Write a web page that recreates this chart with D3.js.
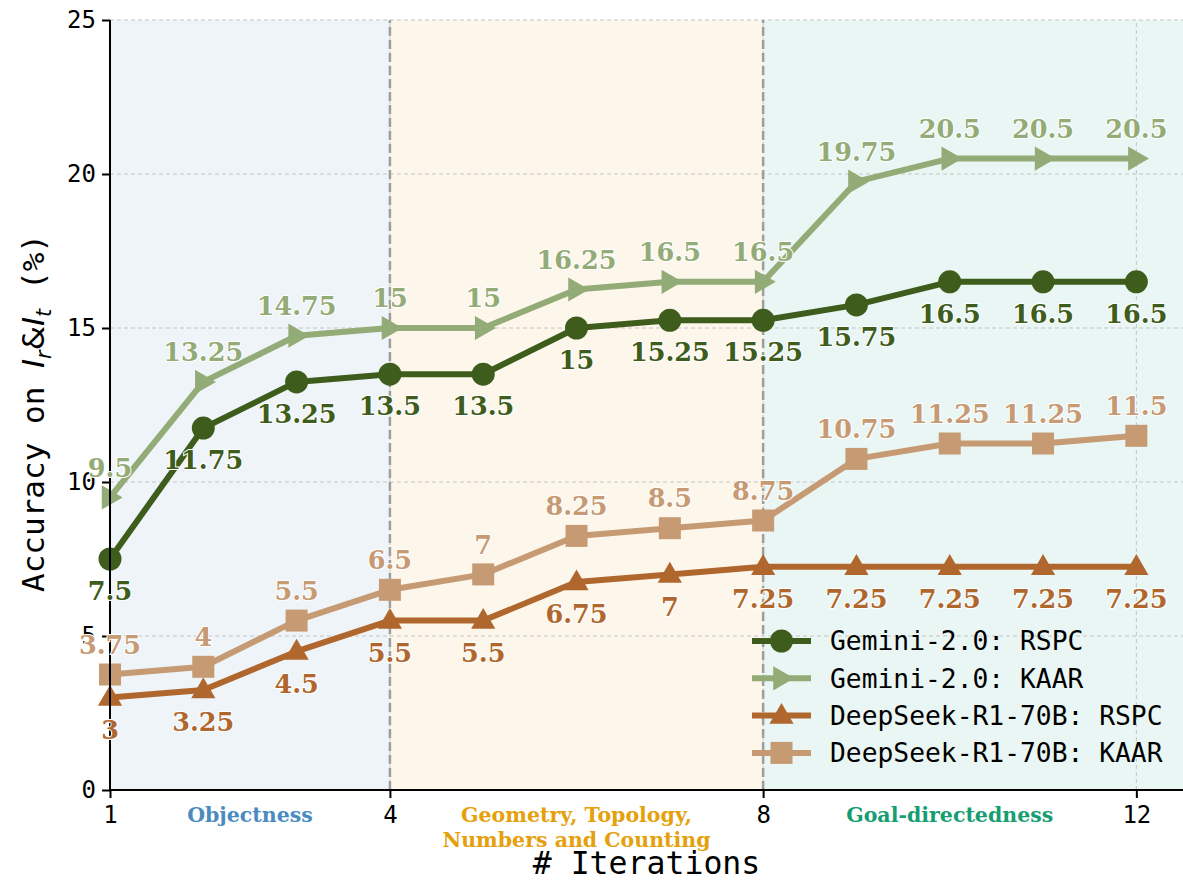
<!DOCTYPE html>
<html>
<head>
<meta charset="utf-8">
<script src="https://cdn.jsdelivr.net/npm/d3@7"></script>
<style>
  html, body { margin: 0; padding: 0; background: #fff; }
  svg { display: block; }
</style>
</head>
<body>
<div id="chart"></div>
<script>
// Iterations on the x axis
const iterations = [1, 2, 3, 4, 5, 6, 7, 8, 9, 10, 11, 12];
const xTicks = [1, 4, 8, 12];
const yTicks = [0, 5, 10, 15, 20, 25];

// Accuracy per iteration for each configuration
const geminiRSPC = [7.5, 11.75, 13.25, 13.5, 13.5, 15, 15.25, 15.25, 15.75, 16.5, 16.5, 16.5];
const geminiKAAR = [9.5, 13.25, 14.75, 15, 15, 16.25, 16.5, 16.5, 19.75, 20.5, 20.5, 20.5];
const deepseekRSPC = [3, 3.25, 4.5, 5.5, 5.5, 6.75, 7, 7.25, 7.25, 7.25, 7.25, 7.25];
const deepseekKAAR = [3.75, 4, 5.5, 6.5, 7, 8.25, 8.5, 8.75, 10.75, 11.25, 11.25, 11.5];

const seriesNames = ["Gemini-2.0: RSPC", "Gemini-2.0: KAAR", "DeepSeek-R1-70B: RSPC", "DeepSeek-R1-70B: KAAR"];

// Knowledge phases shaded behind the curves
const phaseNames = ["Objectness", "Geometry, Topology,\nNumbers and Counting", "Goal-directedness"];
const phaseBounds = [[1, 4], [4, 8], [8, 12.5]];

const series = [
  { name: seriesNames[0], values: geminiRSPC, color: "#3e5c1b", marker: "circle", labelPos: "below" },
  { name: seriesNames[1], values: geminiKAAR, color: "#93ab76", marker: "right", labelPos: "above" },
  { name: seriesNames[2], values: deepseekRSPC, color: "#b0672d", marker: "up", labelPos: "below" },
  { name: seriesNames[3], values: deepseekKAAR, color: "#c69a73", marker: "square", labelPos: "above" }
];
const phaseFill = ["#eff4f8", "#fdf6eb", "#e9f6f4"];
const phaseText = ["#4b8bbf", "#e4a10c", "#169e72"];

const W = 1183, H = 884;
const margin = { left: 110, right: 0, top: 20, bottom: 94 };

const svg = d3.select("#chart").append("svg").attr("width", W).attr("height", H);

const x = d3.scaleLinear().domain([1, 12.5]).range([margin.left, W - margin.right]);
const y = d3.scaleLinear().domain([0, 25]).range([H - margin.bottom, margin.top]);

const plot = svg.append("g");

// phase backgrounds
plot.selectAll("rect.phase").data(phaseBounds).join("rect")
  .attr("x", d => x(d[0])).attr("width", d => x(d[1]) - x(d[0]))
  .attr("y", y(25)).attr("height", y(0) - y(25))
  .attr("fill", (d, i) => phaseFill[i]);

// grid
plot.selectAll("line.gy").data(yTicks).join("line")
  .attr("x1", x(1)).attr("x2", x(12.5))
  .attr("y1", d => y(d)).attr("y2", d => y(d))
  .attr("stroke", "#c4c4c4").attr("stroke-width", 1).attr("stroke-dasharray", "4,3");
plot.selectAll("line.gx").data(xTicks).join("line")
  .attr("x1", d => x(d)).attr("x2", d => x(d))
  .attr("y1", y(0)).attr("y2", y(25))
  .attr("stroke", "#c4c4c4").attr("stroke-width", 1).attr("stroke-dasharray", "4,3");

// phase separators
plot.selectAll("line.sep").data([4, 8]).join("line")
  .attr("x1", d => x(d)).attr("x2", d => x(d))
  .attr("y1", y(0)).attr("y2", y(25))
  .attr("stroke", "#9e9e9e").attr("stroke-width", 2.5).attr("stroke-dasharray", "9,4");

// marker shapes
function markerPath(type, s) {
  if (type === "circle") return d3.symbol(d3.symbolCircle, Math.PI * s * s)();
  if (type === "square") return `M${-s},${-s}H${s}V${s}H${-s}Z`;
  if (type === "up") return `M0,${-s * 1.15}L${s * 1.1},${s * 0.75}L${-s * 1.1},${s * 0.75}Z`;
  if (type === "right") return `M${s * 1.15},0L${-s * 0.75},${-s * 1.1}L${-s * 0.75},${s * 1.1}Z`;
}
const markerSize = { circle: 11.5, square: 11, up: 11, right: 11 };

const line = d3.line().x((d, i) => x(iterations[i])).y(d => y(d));

series.forEach(s => {
  plot.append("path").datum(s.values)
    .attr("d", line).attr("fill", "none")
    .attr("stroke", s.color).attr("stroke-width", 6).attr("stroke-linejoin", "round");
  plot.selectAll(null).data(s.values).join("path")
    .attr("transform", (d, i) => `translate(${x(iterations[i])},${y(d)})`)
    .attr("d", markerPath(s.marker, markerSize[s.marker]))
    .attr("fill", s.color);
});

// axes
const xAxis = d3.axisBottom(x).tickValues(xTicks).tickSize(8).tickPadding(8).tickFormat(d3.format("d"));
const yAxis = d3.axisLeft(y).tickValues(yTicks).tickSize(8).tickPadding(6).tickFormat(d3.format("d"));

const gx = svg.append("g").attr("transform", `translate(0,${y(0)})`).call(xAxis);
const gy = svg.append("g").attr("transform", `translate(${x(1)},0)`).call(yAxis);
[gx, gy].forEach(g => {
  g.select(".domain").attr("stroke", "#000").attr("stroke-width", 2);
  g.selectAll(".tick line").attr("stroke", "#000").attr("stroke-width", 2);
  g.selectAll(".tick text").attr("fill", "#000")
    .style("font-family", "'DejaVu Sans Mono', monospace").style("font-size", "24px");
});
gx.select(".domain").attr("d", `M${x(1)},0H${x(12.5)}`);
gy.select(".domain").attr("d", `M0,${y(0)}V${y(25)}`);

// phase captions under the axis
phaseNames.forEach((name, i) => {
  const cx = (x(phaseBounds[i][0]) + x(Math.min(phaseBounds[i][1], 12))) / 2;
  const lines = name.split("\n");
  const t = svg.append("text")
    .attr("text-anchor", "middle")
    .attr("fill", phaseText[i])
    .style("font-family", "'DejaVu Serif', serif").style("font-weight", "bold").style("font-size", "20.5px");
  lines.forEach((ln, j) => {
    t.append("tspan").attr("x", cx).attr("y", 822 + j * 25).text(ln);
  });
});

// axis titles
svg.append("text")
  .attr("x", (x(1) + x(12.5)) / 2).attr("y", 874)
  .attr("text-anchor", "middle")
  .style("font-family", "'DejaVu Sans Mono', monospace").style("font-size", "31.5px")
  .text("# Iterations");

const yl = svg.append("text")
  .attr("transform", `translate(44,${(y(0) + y(25)) / 2 + 8}) rotate(-90)`)
  .attr("text-anchor", "middle")
  .style("font-family", "'DejaVu Sans Mono', monospace").style("font-size", "31px");
yl.append("tspan").text("Accuracy on ");
yl.append("tspan").style("font-family", "'DejaVu Sans', sans-serif").style("font-style", "italic").text("I");
yl.append("tspan").style("font-family", "'DejaVu Sans', sans-serif").style("font-style", "italic")
  .style("font-size", "21px").attr("dy", 7).text("r");
yl.append("tspan").style("font-family", "'DejaVu Sans', sans-serif").attr("dy", -7).text("&");
yl.append("tspan").style("font-family", "'DejaVu Sans', sans-serif").style("font-style", "italic").text("I");
yl.append("tspan").style("font-family", "'DejaVu Sans', sans-serif").style("font-style", "italic")
  .style("font-size", "21px").attr("dy", 7).text("t");
yl.append("tspan").attr("dy", -7).text(" (%)");

// legend
const legend = svg.append("g");
series.forEach((s, i) => {
  const ly = 641 + i * 37.3;
  legend.append("line").attr("x1", 752).attr("x2", 811).attr("y1", ly).attr("y2", ly)
    .attr("stroke", s.color).attr("stroke-width", 6);
  legend.append("path").attr("transform", `translate(781.5,${ly})`)
    .attr("d", markerPath(s.marker, markerSize[s.marker])).attr("fill", s.color);
  legend.append("text").attr("x", 830).attr("y", ly).attr("dy", "0.35em")
    .style("font-family", "'DejaVu Sans Mono', monospace").style("font-size", "26.3px")
    .attr("fill", "#000").text(s.name);
});

// value labels on every point
const fmt = v => String(v);
series.forEach(s => {
  svg.selectAll(null).data(s.values).join("text")
    .attr("x", (d, i) => x(iterations[i]))
    .attr("y", d => y(d) + (s.labelPos === "below" ? 32 : -30))
    .attr("dy", "0.36em")
    .attr("text-anchor", "middle")
    .attr("fill", s.color)
    .attr("stroke", "#fff").attr("stroke-width", 2).attr("paint-order", "stroke")
    .style("font-family", "'DejaVu Serif', serif").style("font-weight", "bold").style("font-size", "25.5px")
    .text(d => fmt(d));
});
</script>
</body>
</html>
